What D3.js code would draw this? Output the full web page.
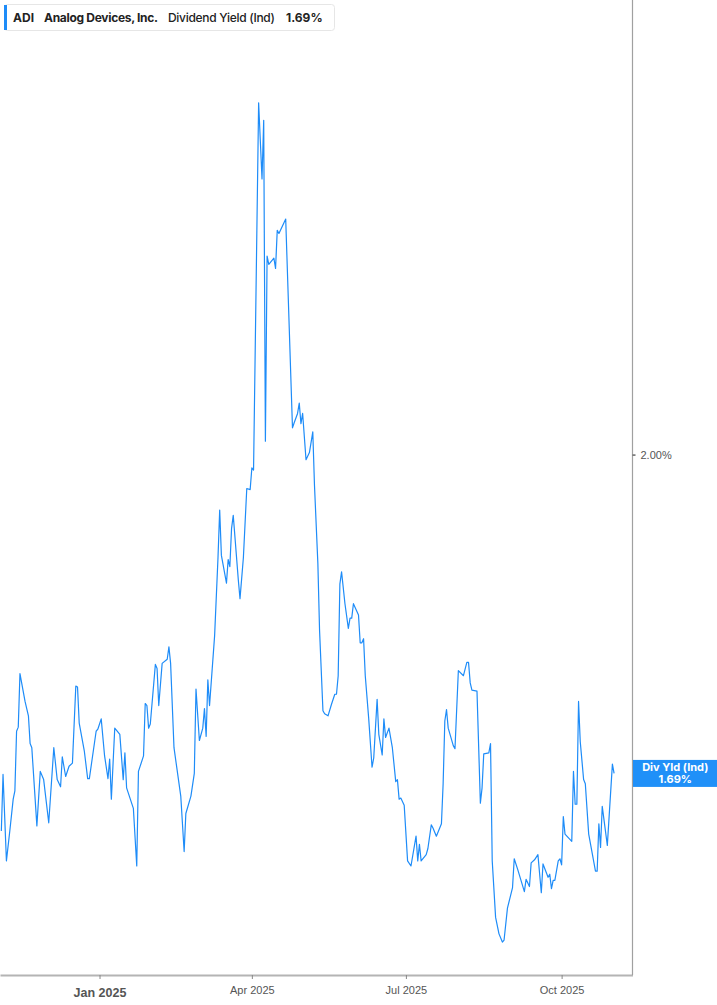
<!DOCTYPE html>
<html>
<head>
<meta charset="utf-8">
<script src="https://cdn.jsdelivr.net/npm/d3@7"></script>
<style>
  html, body { margin: 0; padding: 0; background: #ffffff; }
  svg { display: block; font-family: Inter, "Noto Sans", sans-serif; }
</style>
</head>
<body>
<svg id="chart" width="717" height="1005"></svg>
<script>
// ---- Data ----
const ticker = "ADI";
const companyName = "Analog Devices, Inc.";
const metricName = "Dividend Yield (Ind)";
const lastLabel = "Div Yld (Ind)";

const dates = [
  "2024-11-04","2024-11-05","2024-11-07","2024-11-09","2024-11-11","2024-11-12","2024-11-13","2024-11-14","2024-11-15","2024-11-18",
  "2024-11-20","2024-11-21","2024-11-22","2024-11-25","2024-11-27","2024-11-29","2024-12-02","2024-12-05","2024-12-07","2024-12-09",
  "2024-12-10","2024-12-12","2024-12-14","2024-12-16","2024-12-18","2024-12-19","2024-12-20","2024-12-23","2024-12-25","2024-12-26",
  "2024-12-30","2024-12-31","2025-01-02","2025-01-04","2025-01-06","2025-01-07","2025-01-08","2025-01-10","2025-01-13","2025-01-15",
  "2025-01-16","2025-01-17","2025-01-21","2025-01-23","2025-01-24","2025-01-27","2025-01-28","2025-01-29","2025-01-30","2025-01-31",
  "2025-02-03","2025-02-04","2025-02-05","2025-02-07","2025-02-10","2025-02-11","2025-02-12","2025-02-14","2025-02-18","2025-02-20",
  "2025-02-21","2025-02-24","2025-02-26","2025-02-27","2025-03-01","2025-03-03","2025-03-04","2025-03-05","2025-03-06","2025-03-07",
  "2025-03-10","2025-03-12","2025-03-13","2025-03-14","2025-03-17","2025-03-18","2025-03-19","2025-03-20","2025-03-21","2025-03-24",
  "2025-03-25","2025-03-27","2025-03-29","2025-03-31","2025-04-01","2025-04-02","2025-04-05","2025-04-07","2025-04-08","2025-04-09",
  "2025-04-10","2025-04-11","2025-04-14","2025-04-15","2025-04-16","2025-04-17","2025-04-21","2025-04-25","2025-04-26","2025-04-28",
  "2025-04-29","2025-04-30","2025-05-01","2025-05-03","2025-05-05","2025-05-07","2025-05-08","2025-05-10","2025-05-11","2025-05-13",
  "2025-05-14","2025-05-16","2025-05-18","2025-05-20","2025-05-21","2025-05-22","2025-05-23","2025-05-24","2025-05-26","2025-05-28",
  "2025-05-29","2025-05-30","2025-05-31","2025-06-03","2025-06-04","2025-06-05","2025-06-06","2025-06-07","2025-06-09","2025-06-11",
  "2025-06-12","2025-06-14","2025-06-15","2025-06-17","2025-06-18","2025-06-19","2025-06-21","2025-06-23","2025-06-25","2025-06-26",
  "2025-06-27","2025-06-28","2025-06-30","2025-07-02","2025-07-04","2025-07-07","2025-07-08","2025-07-09","2025-07-10","2025-07-13",
  "2025-07-14","2025-07-16","2025-07-17","2025-07-19","2025-07-22","2025-07-23","2025-07-24","2025-07-25","2025-07-26","2025-07-29",
  "2025-07-30","2025-08-01","2025-08-04","2025-08-06","2025-08-07","2025-08-08","2025-08-09","2025-08-12","2025-08-14","2025-08-15",
  "2025-08-16","2025-08-19","2025-08-20","2025-08-21","2025-08-23","2025-08-25","2025-08-27","2025-08-28","2025-08-30","2025-09-02",
  "2025-09-03","2025-09-05","2025-09-09","2025-09-10","2025-09-12","2025-09-13","2025-09-15","2025-09-17","2025-09-19","2025-09-20",
  "2025-09-23","2025-09-24","2025-09-25","2025-09-26","2025-09-27","2025-09-29","2025-09-30","2025-10-01","2025-10-02","2025-10-03",
  "2025-10-07","2025-10-08","2025-10-09","2025-10-10","2025-10-11","2025-10-12","2025-10-14","2025-10-15","2025-10-17","2025-10-21",
  "2025-10-22","2025-10-23","2025-10-24","2025-10-25","2025-10-28","2025-10-31","2025-11-01"
];

const yieldValues = [
  1.634,1.689,1.605,1.634,1.665,1.673,1.731,1.735,1.787,1.760,
  1.746,1.719,1.715,1.639,1.692,1.684,1.642,1.715,1.684,1.677,
  1.706,1.687,1.697,1.700,1.775,1.774,1.739,1.712,1.685,1.685,
  1.731,1.733,1.743,1.707,1.685,1.704,1.665,1.734,1.728,1.684,
  1.710,1.676,1.656,1.600,1.692,1.707,1.758,1.756,1.734,1.738,
  1.796,1.792,1.756,1.797,1.801,1.813,1.797,1.715,1.668,1.614,
  1.651,1.668,1.690,1.772,1.722,1.734,1.753,1.726,1.781,1.756,
  1.824,1.900,1.946,1.902,1.875,1.898,1.891,1.928,1.941,1.878,
  1.860,1.900,1.967,1.966,1.987,1.985,2.342,2.268,2.325,2.013,
  2.193,2.185,2.191,2.181,2.218,2.215,2.229,2.026,2.031,2.040,
  2.050,2.030,2.040,1.995,2.002,2.022,1.970,1.894,1.829,1.751,
  1.748,1.746,1.757,1.767,1.767,1.785,1.874,1.886,1.855,1.831,
  1.841,1.841,1.855,1.844,1.817,1.817,1.821,1.785,1.744,1.696,
  1.705,1.762,1.728,1.708,1.743,1.725,1.734,1.715,1.682,1.684,
  1.665,1.666,1.659,1.605,1.600,1.629,1.605,1.621,1.605,1.611,
  1.617,1.640,1.637,1.629,1.641,1.680,1.741,1.752,1.734,1.717,
  1.714,1.790,1.785,1.798,1.798,1.778,1.771,1.770,1.661,1.676,
  1.709,1.710,1.719,1.605,1.550,1.534,1.526,1.528,1.559,1.579,
  1.607,1.597,1.575,1.587,1.580,1.603,1.606,1.611,1.574,1.602,
  1.589,1.592,1.578,1.586,1.586,1.605,1.607,1.601,1.648,1.631,
  1.624,1.692,1.660,1.660,1.760,1.721,1.684,1.680,1.631,1.595,
  1.595,1.641,1.618,1.658,1.620,1.699,1.690
];

const xTickDates = ["2025-01-01","2025-04-01","2025-07-01","2025-10-01"];
const xTickLabels = ["Jan 2025","Apr 2025","Jul 2025","Oct 2025"];
const yTickValues = [2.00];
const xDomainStrings = ["2024-11-03T05:00","2025-11-11T21:00"];
const yDomainValues = [1.494, 2.442];

// ---- Layout ----
const W = 717, H = 1005;
const plotRight = 632.5, plotBottom = 975, plotTop = 0;
const lineColor = "#1e8cf8";

const parseDay = d3.timeParse("%Y-%m-%d");
const parseDT = d3.timeParse("%Y-%m-%dT%H:%M");
const data = dates.map((d, i) => ({ date: parseDay(d), value: yieldValues[i] }));

const x = d3.scaleTime()
  .domain(xDomainStrings.map(parseDT))
  .range([0, plotRight]);
const y = d3.scaleLinear()
  .domain(yDomainValues)
  .range([plotBottom, plotTop]);

const svg = d3.select("#chart");

// Line
const line = d3.line().x(d => x(d.date)).y(d => y(d.value));
svg.append("path")
  .datum(data)
  .attr("fill", "none")
  .attr("stroke", lineColor)
  .attr("stroke-width", 1.2)
  .attr("stroke-linejoin", "round")
  .attr("d", line);

// Bottom axis
const xAxis = d3.axisBottom(x)
  .tickValues(xTickDates.map(parseDay))
  .tickSize(4)
  .tickSizeOuter(0)
  .tickFormat((d, i) => xTickLabels[i]);
const gx = svg.append("g")
  .attr("transform", `translate(0,${plotBottom})`)
  .call(xAxis);
gx.select(".domain").attr("stroke", "#b4b4b4").attr("stroke-width", 2);
gx.selectAll(".tick line").attr("stroke", "#888").attr("stroke-width", 1);
gx.selectAll(".tick text")
  .attr("fill", "#555")
  .attr("font-size", 11)
  .attr("dy", null)
  .attr("y", 18.5);
gx.selectAll(".tick text").filter((d, i) => i === 0)
  .attr("font-weight", 700)
  .attr("font-size", 12.5)
  .attr("y", 22)
  .attr("fill", "#555");

// Right axis
const yAxis = d3.axisRight(y)
  .tickValues(yTickValues)
  .tickSize(3)
  .tickSizeOuter(0)
  .tickFormat(d => d3.format(".2f")(d) + "%");
const gy = svg.append("g")
  .attr("transform", `translate(${plotRight},0)`)
  .call(yAxis);
gy.select(".domain")
  .attr("stroke", "#a0a0a0")
  .attr("stroke-width", 1.2)
  .attr("d", `M0,${plotTop}V${plotBottom}`);
gy.selectAll(".tick line").attr("stroke", "#666").attr("stroke-width", 1.5);
gy.selectAll(".tick text")
  .attr("fill", "#555")
  .attr("font-size", 11)
  .attr("x", 8);

// Last value label box
const last = data[data.length - 1];
const ly = y(last.value);
const boxH = 27;
svg.append("rect")
  .attr("x", plotRight + 0.5)
  .attr("y", ly - boxH / 2)
  .attr("width", W - plotRight)
  .attr("height", boxH)
  .attr("fill", "#2090f8");
svg.append("text")
  .attr("x", (plotRight + W) / 2 + 0.5)
  .attr("y", ly - 2)
  .attr("text-anchor", "middle")
  .attr("fill", "#fff")
  .attr("font-weight", 700)
  .attr("font-size", 11)
  .text(lastLabel);
svg.append("text")
  .attr("x", (plotRight + W) / 2 + 0.5)
  .attr("y", ly + 10)
  .attr("text-anchor", "middle")
  .attr("fill", "#fff")
  .attr("font-weight", 700)
  .attr("font-size", 11)
  .text(d3.format(".2f")(last.value) + "%");

// Legend box
const legend = svg.append("g");
legend.append("rect")
  .attr("x", 4.5).attr("y", 4.5)
  .attr("width", 330).attr("height", 26)
  .attr("rx", 3)
  .attr("fill", "#fff")
  .attr("stroke", "#e6e6e6");
legend.append("rect")
  .attr("x", 4).attr("y", 5)
  .attr("width", 3).attr("height", 25)
  .attr("fill", lineColor);
const legendY = 21.5;
legend.append("text").attr("x", 13).attr("y", legendY)
  .attr("font-size", 12).attr("font-weight", 700).attr("fill", "#222").text(ticker);
legend.append("text").attr("x", 44).attr("y", legendY)
  .attr("font-size", 12).attr("font-weight", 700).attr("fill", "#222")
  .attr("textLength", 114).text(companyName);
legend.append("text").attr("x", 168).attr("y", legendY)
  .attr("font-size", 12).attr("font-weight", 500).attr("fill", "#222")
  .attr("textLength", 107).text(metricName);
legend.append("text").attr("x", 286).attr("y", legendY)
  .attr("font-size", 12).attr("font-weight", 700).attr("fill", "#222")
  .text(d3.format(".2f")(last.value) + "%");
</script>
</body>
</html>
